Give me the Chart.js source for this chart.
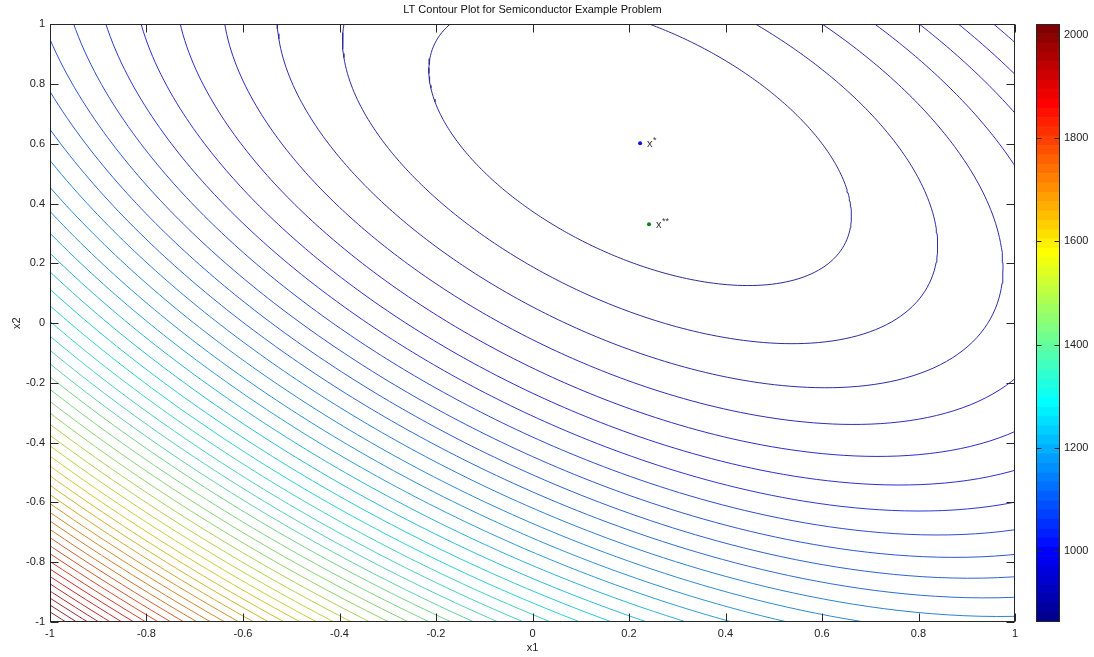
<!DOCTYPE html>
<html>
<head>
<meta charset="utf-8">
<script src="https://cdn.jsdelivr.net/npm/chart.js@4.4.1/dist/chart.umd.min.js"></script>
<style>
  body { margin: 0; background: #fff; }
  #wrap { position: relative; width: 1094px; height: 657px; }
  #main { position: absolute; left: 0; top: 0; }
  #cbar { position: absolute; left: 1020px; top: 0; }
</style>
</head>
<body>
<div id="wrap">
  <canvas id="main" width="1030" height="657"></canvas>
  <canvas id="cbar" width="74" height="657"></canvas>
</div>
<script>
const TITLE = 'LT Contour Plot for Semiconductor Example Problem';
const xTicks = [-1, -0.8, -0.6, -0.4, -0.2, 0, 0.2, 0.4, 0.6, 0.8, 1];
const yTicks = [-1, -0.8, -0.6, -0.4, -0.2, 0, 0.2, 0.4, 0.6, 0.8, 1];
const cbTicks = [1000, 1200, 1400, 1600, 1800, 2000];
const zRange = [863, 2021];

// 50 contour levels
const levels = [
  885.7, 908.4, 931.1, 953.8, 976.5, 999.2, 1021.9, 1044.6, 1067.4, 1090.1,
  1112.8, 1135.5, 1158.2, 1180.9, 1203.6, 1226.3, 1249.0, 1271.7, 1294.4, 1317.1,
  1339.8, 1362.5, 1385.2, 1407.9, 1430.6, 1453.4, 1476.1, 1498.8, 1521.5, 1544.2,
  1566.9, 1589.6, 1612.3, 1635.0, 1657.7, 1680.4, 1703.1, 1725.8, 1748.5, 1771.2,
  1794.0, 1816.7, 1839.4, 1862.1, 1884.8, 1907.5, 1930.2, 1952.9, 1975.6, 1998.3
];

// response surface estimated from the ellipses: z = zmin + g1*Q + g2*Q^2
// Q = a*du^2 + b*du*dv + c*dv^2 around the minimum x*
const surfCenter = [0.223, 0.602];
const surfForm = [1, 0.94, 0.845];
const surfGain = [158.9, 9.72];

const optNames = ['x*', 'x**'];
const optX = [0.223, 0.2415];
const optY = [0.602, 0.331];
const optColors = ['#1010ff', '#108010'];

const FONT = '"Liberation Sans", Arial, Helvetica, sans-serif';
const TXT = '#222';

// matlab jet(64); soft = blend toward grey like the thin lines in the picture
function jet(z, soft) {
  let k = Math.floor((z - zRange[0]) / (zRange[1] - zRange[0]) * 64) + 1;
  k = Math.max(1, Math.min(64, k));
  const c = v => 255 * Math.max(0, Math.min(1, v));
  let rgb = [
    c(Math.min((k - 24) / 16, (72 - k) / 16)),
    c(Math.min((k - 8) / 16, (56 - k) / 16)),
    c(Math.min((k + 8) / 16, (40 - k) / 16))
  ];
  if (soft) rgb = rgb.map(v => v * (1 - soft) + 128 * soft);
  return `rgb(${rgb.map(Math.round).join(',')})`;
}

function contourPoints(z) {
  const [g1, g2] = surfGain;
  const q = (-g1 + Math.sqrt(g1 * g1 + 4 * g2 * (z - zRange[0]))) / (2 * g2);
  const pts = [];
  for (let deg = 0; deg <= 360; deg += 1) {
    const t = deg * Math.PI / 180, c = Math.cos(t), s = Math.sin(t);
    const r = Math.sqrt(q / (surfForm[0] * c * c + surfForm[1] * c * s + surfForm[2] * s * s));
    pts.push({ x: surfCenter[0] + r * c, y: surfCenter[1] + r * s });
  }
  return pts;
}

const frame = {
  id: 'frame',
  afterDatasetsDraw(chart) {
    const { ctx, chartArea: a, scales: { x, y } } = chart;
    const L = Math.round(a.left) + 0.5, R = Math.round(a.right) - 0.5;
    const T = Math.round(a.top) + 0.5, B = Math.round(a.bottom) - 0.5;
    ctx.save();
    ctx.strokeStyle = '#262626';
    ctx.lineWidth = 1;
    ctx.beginPath();
    xTicks.forEach(v => {
      const p = Math.round(x.getPixelForValue(v)) + 0.5;
      ctx.moveTo(p, B); ctx.lineTo(p, B - 8);
      ctx.moveTo(p, T); ctx.lineTo(p, T + 8);
    });
    yTicks.forEach(v => {
      const p = Math.round(y.getPixelForValue(v)) + 0.5;
      ctx.moveTo(L, p); ctx.lineTo(L + 8, p);
      ctx.moveTo(R, p); ctx.lineTo(R - 8, p);
    });
    ctx.stroke();
    ctx.strokeRect(L, T, R - L, B - T);

    // point labels
    ctx.fillStyle = '#333';
    ctx.textBaseline = 'middle';
    optNames.forEach((n, i) => {
      const px = x.getPixelForValue(optX[i]) + 7, py = y.getPixelForValue(optY[i]);
      ctx.font = '11px ' + FONT;
      ctx.fillText('x', px, py + 1);
      const w = ctx.measureText('x').width;
      ctx.font = '9px ' + FONT;
      ctx.fillText(n.slice(1), px + w + 0.5, py - 3);
    });
    ctx.restore();
  }
};

const contourSets = levels.map(z => ({
  data: contourPoints(z),
  showLine: true,
  borderColor: jet(z, 0.35),
  borderWidth: 1,
  pointRadius: 0,
  tension: 0,
  order: 2
}));

const pointSets = optNames.map((n, i) => ({
  data: [{ x: optX[i], y: optY[i] }],
  showLine: false,
  pointRadius: 2,
  pointBorderWidth: 0,
  pointBackgroundColor: optColors[i],
  order: 1
}));

const tickFont = { family: FONT, size: 11 };

new Chart(document.getElementById('main'), {
  type: 'scatter',
  data: { datasets: [...pointSets, ...contourSets] },
  options: {
    responsive: false,
    animation: false,
    events: [],
    layout: { padding: { top: 0, right: 15, left: 0, bottom: 0 } },
    plugins: {
      legend: { display: false },
      tooltip: { enabled: false },
      title: {
        display: true, text: TITLE, fullSize: false,
        font: { family: FONT, size: 11, weight: 'normal' }, color: '#111',
        padding: { top: 3, bottom: 8 }
      }
    },
    scales: {
      x: {
        type: 'linear', min: -1, max: 1,
        afterBuildTicks: s => { s.ticks = xTicks.map(v => ({ value: v })); },
        afterFit: s => { s.height = 35; },
        grid: { display: false, drawTicks: false }, border: { display: false },
        ticks: { padding: 5, font: tickFont, color: TXT, autoSkip: false, maxRotation: 0, callback: v => String(v) },
        title: { display: true, text: 'x1', font: tickFont, color: TXT, padding: { top: 0, bottom: 2 } }
      },
      y: {
        type: 'linear', min: -1, max: 1,
        afterBuildTicks: s => { s.ticks = yTicks.map(v => ({ value: v })); },
        afterFit: s => { s.width = 50; },
        grid: { display: false, drawTicks: false }, border: { display: false },
        ticks: { padding: 5, font: tickFont, color: TXT, autoSkip: false, callback: v => String(v) },
        title: { display: true, text: 'x2', font: tickFont, color: TXT, padding: { top: 10, bottom: 0 } }
      }
    }
  },
  plugins: [frame]
});

// colour bar: 64 floating bars on one category
const step = (zRange[1] - zRange[0]) / 64;
const bands = [];
for (let i = 0; i < 64; i++) bands.push([zRange[0] + i * step, zRange[0] + (i + 1) * step]);

const cbarFrame = {
  id: 'cbarFrame',
  afterDatasetsDraw(chart) {
    const { ctx, chartArea: a, scales: { y } } = chart;
    const L = Math.round(a.left) + 0.5, R = Math.round(a.right) - 0.5;
    const T = Math.round(a.top) + 0.5, B = Math.round(a.bottom) - 0.5;
    ctx.save();
    ctx.strokeStyle = '#262626';
    ctx.lineWidth = 1;
    ctx.beginPath();
    cbTicks.forEach(v => {
      const p = Math.round(y.getPixelForValue(v)) + 0.5;
      ctx.moveTo(L, p); ctx.lineTo(L + 5, p);
      ctx.moveTo(R, p); ctx.lineTo(R - 5, p);
    });
    ctx.stroke();
    ctx.strokeRect(L, T, R - L, B - T);
    ctx.restore();
  }
};

new Chart(document.getElementById('cbar'), {
  type: 'bar',
  data: {
    labels: [''],
    datasets: bands.map(b => ({
      data: [b],
      backgroundColor: jet((b[0] + b[1]) / 2),
      borderWidth: 0,
      grouped: false,
      barPercentage: 1,
      categoryPercentage: 1
    }))
  },
  options: {
    responsive: false,
    animation: false,
    events: [],
    layout: { padding: { left: 16, top: 24, bottom: 35, right: 0 } },
    plugins: { legend: { display: false }, tooltip: { enabled: false } },
    scales: {
      x: { display: false },
      y: {
        position: 'right', min: zRange[0], max: zRange[1],
        afterBuildTicks: s => { s.ticks = cbTicks.map(v => ({ value: v })); },
        afterFit: s => { s.width = 34; },
        grid: { display: false, drawTicks: false }, border: { display: false },
        ticks: { padding: 4, font: tickFont, color: TXT, autoSkip: false, callback: v => String(v) }
      }
    }
  },
  plugins: [cbarFrame]
});
</script>
</body>
</html>
